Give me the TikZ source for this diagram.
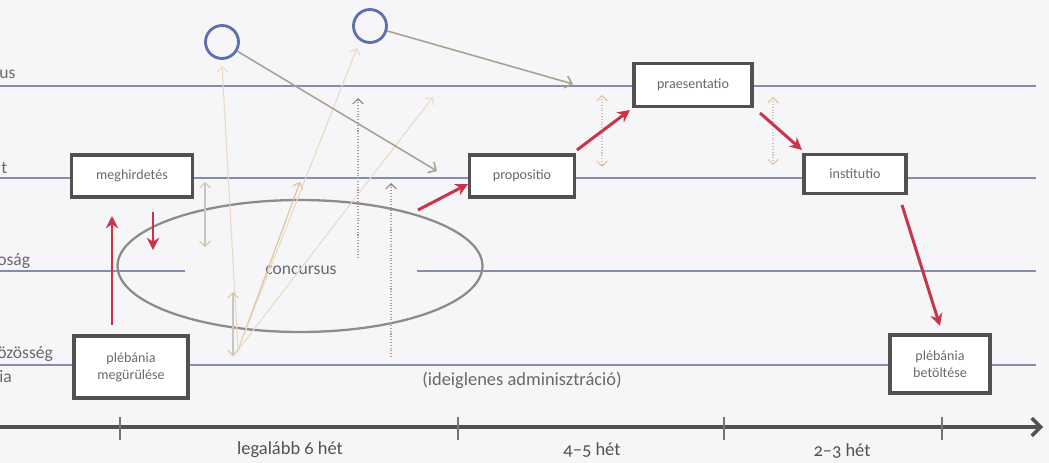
\documentclass[tikz,border=0pt]{standalone}
\usepackage{fontspec}
\setmainfont{Carlito}[Numbers=OldStyle]
\usetikzlibrary{arrows.meta,shapes.geometric}

\definecolor{backcol}{RGB}{246,246,248}
\definecolor{lanecol}{RGB}{132,140,178}
\definecolor{boxcol}{RGB}{84,80,80}
\definecolor{textcol}{RGB}{105,105,108}
\definecolor{redcol}{RGB}{200,52,72}
\definecolor{linkcol}{RGB}{172,162,146}
\definecolor{tancol}{RGB}{222,192,150}
\definecolor{shaftcol}{RGB}{200,198,196}
\definecolor{dotcol}{RGB}{175,160,140}
\definecolor{ringcol}{RGB}{92,112,172}

\tikzset{
  rowline/.style={draw=lanecol, line width=0.7pt},
  stagebox/.style={draw=boxcol, line width=2.2pt, fill=white, text=textcol,
    font=\fontsize{8}{9.5}\selectfont, align=center, inner sep=1pt},
  ring/.style={circle, draw=ringcol, line width=1.6pt, minimum size=0.66cm, inner sep=0pt},
  steparrow/.style={draw=redcol, line width=1.7pt, -{Stealth[length=7pt,width=7pt]}},
  linkarrow/.style={draw=linkcol, line width=0.9pt, -{Straight Barb[length=3.5pt,width=7pt]}},
  hintarrow/.style={draw=tancol, line width=0.6pt, -{Straight Barb[length=3pt,width=6pt]}},
  pairarrow/.style={draw=shaftcol, line width=0.6pt,
    {Straight Barb[length=3pt,width=6pt,color=tancol]}-{Straight Barb[length=3pt,width=6pt,color=tancol]}},
  dotlink/.style={draw=dotcol, densely dotted, line width=0.6pt,
    -{Straight Barb[length=3pt,width=6pt,color=boxcol!70]}},
  sidelabel/.style={anchor=west, text=textcol, font=\fontsize{10}{12}\selectfont, inner sep=0pt},
  weeklabel/.style={text=boxcol, font=\fontsize{10.5}{12}\selectfont}
}

\begin{document}
\begin{tikzpicture}[x=0.02cm, y=-0.02cm]
  \fill[backcol] (0,0) rectangle (1049,463);
  \useasboundingbox (0,0) rectangle (1049,463);

  % lanes
  \draw[rowline] (0,86) -- (1036,86);
  \draw[rowline] (0,178) -- (1036,178);
  \draw[rowline] (0,271) -- (185,271);
  \draw[rowline] (417,271) -- (1036,271);
  \draw[rowline] (0,365) -- (1036,365);

  \node[sidelabel] (lab1) at (-1,74) {us};
  \node[sidelabel] (lab2) at (1,168) {t};
  \node[sidelabel] (lab3) at (-3,261) {oság};
  \node[sidelabel] (lab4) at (-3,354) {özösség};
  \node[sidelabel] (lab5) at (-1,377) {ia};

  % time axis
  \draw[draw=boxcol, line width=2pt, -{Straight Barb[length=5pt,width=10pt]}] (0,427) -- (1043,427);
  \foreach \t in {120,458,724,942}
    \draw[draw=boxcol!80, line width=0.8pt] (\t,417) -- (\t,440);
  \node[weeklabel] (w1) at (290,450) {legalább 6 hét};
  \node[weeklabel] (w2) at (592,450) {4–5 hét};
  \node[weeklabel] (w3) at (842,451) {2–3 hét};

  % concursus
  \node[ellipse, draw=black!45, line width=1.3pt, minimum width=7.3cm, minimum height=2.64cm,
    inner sep=0pt] (concursus) at (300,266) {};
  \node[text=textcol, font=\fontsize{10}{12}\selectfont] (conctext) at (301,270) {concursus};
  \node[text=textcol, font=\fontsize{10.5}{12}\selectfont] (admin) at (522,380) {(ideiglenes adminisztráció)};

  % stages
  \node[stagebox, minimum width=2.42cm, minimum height=0.84cm] (meghird) at (132,176) {meghirdetés};
  \node[stagebox, minimum width=2.1cm, minimum height=0.84cm] (propos) at (522,176) {propositio};
  \node[stagebox, minimum width=2.36cm, minimum height=0.86cm] (praesent) at (693,85) {praesentatio};
  \node[stagebox, minimum width=2.04cm, minimum height=0.78cm] (instit) at (855,174) {institutio};
  \node[stagebox, minimum width=2.28cm, minimum height=1.24cm] (megur) at (131,367) {plébánia\\megürülése};
  \node[stagebox, minimum width=2.0cm, minimum height=1.16cm] (betolt) at (940,364) {plébánia\\betöltése};

  \node[ring] (ring1) at (222,42) {};
  \node[ring] (ring2) at (370,26) {};

  % faint hints from the bottom lane
  \coordinate (fan) at (238,350);
  \coordinate (fan1) at (222,66);
  \coordinate (fan2) at (300,182);
  \coordinate (fan3) at (357,48);
  \coordinate (fan4) at (433,97);
  \draw[hintarrow, draw=tancol!60] (fan) -- (fan1);
  \draw[hintarrow] (fan) -- (fan2);
  \draw[hintarrow, draw=tancol!60] (fan) -- (fan3);
  \draw[hintarrow, draw=tancol!60] (fan) -- (fan4);

  \draw[pairarrow] (205,182) -- (205,247);
  \draw[pairarrow] (233,292) -- (233,356);
  \draw[pairarrow, densely dotted] (602,95) -- (602,167);
  \draw[pairarrow, densely dotted] (773,97) -- (773,165);

  \draw[dotlink] (358,258) -- (358,98);
  \draw[dotlink] (391,357) -- (391,183);

  % links from the rings
  \coordinate (propin) at (437,171);
  \coordinate (praesin) at (573,84);
  \draw[linkarrow] (ring1) -- (propin);
  \draw[linkarrow] (ring2) -- (praesin);

  % main steps
  \coordinate (up1) at (112,325);
  \coordinate (up2) at (112,216);
  \coordinate (dn1) at (153,212);
  \coordinate (dn2) at (153,250);
  \coordinate (cc) at (418,210);
  \coordinate (pp) at (577,150);
  \coordinate (ps) at (760,113);
  \coordinate (is) at (902,205);
  \draw[steparrow] (up1) -- (up2);
  \draw[steparrow] (dn1) -- (dn2);
  \draw[steparrow] (cc) -- (468,184);
  \draw[steparrow] (pp) -- (630,110);
  \draw[steparrow] (ps) -- (802,150);
  \draw[steparrow] (is) -- (940,326);
\end{tikzpicture}
\end{document}
